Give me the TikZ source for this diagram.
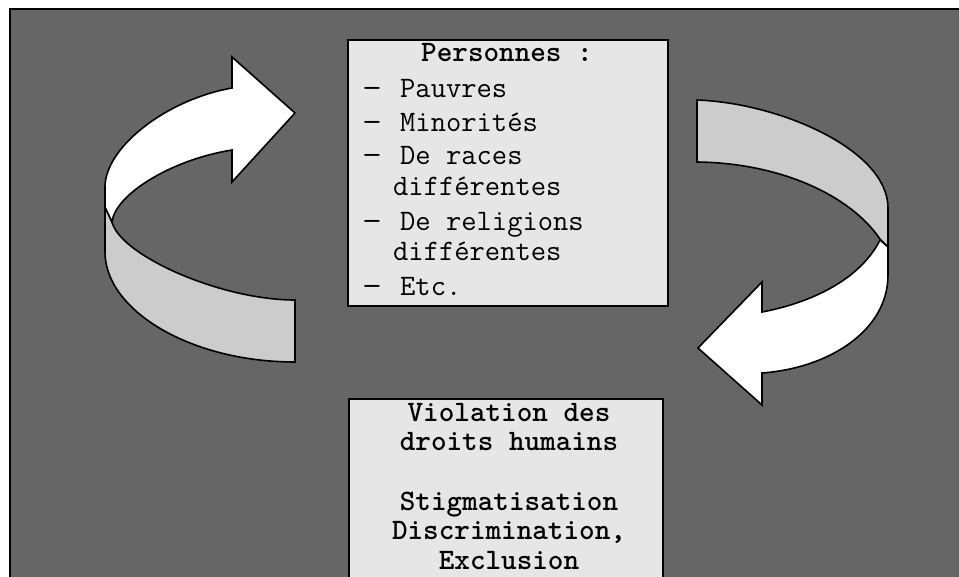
\documentclass[tikz,border=0pt]{standalone}
\usepackage{fontspec}
\usepackage{graphicx}
\definecolor{bggray}{HTML}{666666}
\definecolor{boxgray}{HTML}{E6E6E6}
\definecolor{bandgray}{HTML}{CCCCCC}
\newcommand{\longdash}{\scalebox{1.3}[1]{–}}
\begin{document}
\begin{tikzpicture}[x=1pt,y=-1pt,
  outline/.style={draw=black, line width=1.6pt, line join=miter},
  box/.style={draw=black, line width=1.8pt, fill=boxgray, rectangle, inner sep=0pt, anchor=north west},
  txt/.style={inner sep=0pt, font=\ttfamily\fontsize{29.7}{32}\selectfont},
  btxt/.style={inner sep=0pt, font=\ttfamily\bfseries\fontsize{29.7}{32}\selectfont}]
\useasboundingbox (0,0) rectangle (959,577);
\clip (0,0) rectangle (959,577);
\fill[white] (0,0) rectangle (959,577);
\fill[bggray] (10,9) rectangle (970,590);
\draw[line width=2pt] (10,590) -- (10,9) -- (970,9);

% left curved arrow: gray band
\filldraw[outline, fill=bandgray] (105,207) -- (112,222) .. controls (120,255) and (220,300) .. (295,300) -- (295,362) .. controls (190,362) and (105,310) .. (105,252) -- cycle;
% left curved arrow: white arrow
\filldraw[outline, fill=white] (295,113) -- (232,57) -- (232,88) .. controls (165,100) and (105,148) .. (105,187) -- (105,207) -- (112,222) .. controls (115,195) and (170,160) .. (232,150) -- (232,182) -- cycle;

% right curved arrow: gray band
\filldraw[outline, fill=bandgray] (697,100) .. controls (780,103) and (888,150) .. (888,208) -- (888,247) -- (880,239) .. controls (850,195) and (780,163) .. (697,162) -- cycle;
% right curved arrow: white arrow
\filldraw[outline, fill=white] (888,247) -- (888,275) .. controls (888,330) and (830,368) .. (762,373) -- (762,405) -- (698,348) -- (762,282) -- (762,312) .. controls (810,303) and (860,280) .. (880,240) -- cycle;

% boxes
\node[box, minimum width=320pt, minimum height=266pt] (pbox) at (347,39) {};
\node[box, minimum width=314pt, minimum height=220pt] (vbox) at (348,398) {};

% top box text
\node[btxt, anchor=base] (ptitle) at (507,62) {Personnes :};
\node[txt, anchor=base west] (d1) at (362,98) {\longdash};
\node[txt, anchor=base west] (i1) at (400,98) {Pauvres};
\node[txt, anchor=base west] (d2) at (362,132) {\longdash};
\node[txt, anchor=base west] (i2) at (400,132) {Minorités};
\node[txt, anchor=base west] (d3) at (362,165) {\longdash};
\node[txt, anchor=base west] (i3) at (400,165) {De races};
\node[txt, anchor=base west] (i3b) at (393,196) {différentes};
\node[txt, anchor=base west] (d4) at (362,231) {\longdash};
\node[txt, anchor=base west] (i4) at (400,231) {De religions};
\node[txt, anchor=base west] (i4b) at (393,261) {différentes};
\node[txt, anchor=base west] (d5) at (362,296) {\longdash};
\node[txt, anchor=base west] (i5) at (400,296) {Etc.};

% bottom box text
\node[btxt, anchor=base] (v1) at (509,421) {Violation des};
\node[btxt, anchor=base] (v2) at (509,450.5) {droits humains};
\node[btxt, anchor=base] (v3) at (509,510) {Stigmatisation};
\node[btxt, anchor=base] (v4) at (509,539.5) {Discrimination,};
\node[btxt, anchor=base] (v5) at (509,569) {Exclusion};
\end{tikzpicture}
\end{document}
